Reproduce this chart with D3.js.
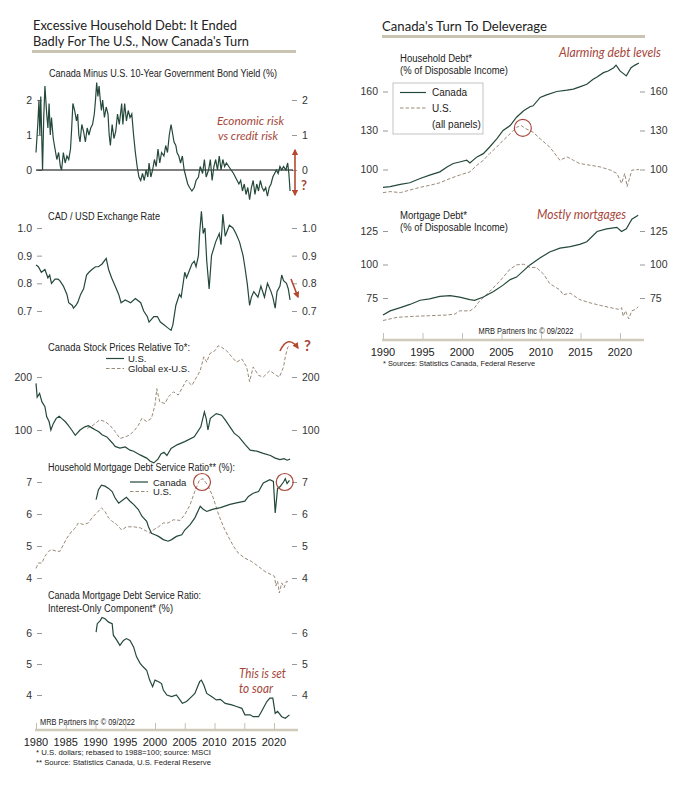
<!DOCTYPE html>
<html>
<head>
<meta charset="utf-8">
<script src="https://cdn.jsdelivr.net/npm/d3@7"></script>
<style>
  body { margin: 0; background: #fff; }
  svg text { font-family: "Liberation Sans", Arial, sans-serif; fill: #222; }
  .tick-lbl { font-size: 10px; fill: #333; }
  .note { font-family: Lato, "Open Sans", sans-serif; font-style: italic; fill: #a5463a; }
  .ttl { font-family: Lato, "Open Sans", sans-serif; fill: #222; }
</style>
</head>
<body>
<div id="chart"></div>
<script>
// ---- data ----
var yieldSpread = [[1980.0,0.5],[1980.3,1.3],[1980.5,2.0],[1980.65,1.0],[1980.8,2.1],[1981.1,0.0],[1981.3,1.5],[1981.5,2.4],[1981.8,1.6],[1982.0,1.2],[1982.2,1.9],[1982.4,1.0],[1982.6,1.5],[1982.9,0.9],[1983.2,0.6],[1983.5,0.3],[1983.8,0.5],[1984.1,0.1],[1984.3,0.0],[1984.6,0.5],[1984.9,0.2],[1985.2,0.4],[1985.5,0.3],[1985.8,0.6],[1986.0,1.2],[1986.2,1.9],[1986.5,1.7],[1986.8,1.4],[1987.0,1.6],[1987.2,1.0],[1987.4,0.8],[1987.7,1.3],[1988.0,1.1],[1988.3,0.8],[1988.6,1.2],[1988.9,1.0],[1989.2,1.2],[1989.5,1.3],[1989.8,1.6],[1990.0,2.0],[1990.2,2.5],[1990.4,2.1],[1990.6,2.4],[1990.8,2.0],[1991.0,1.7],[1991.2,2.0],[1991.5,1.5],[1991.8,1.8],[1992.1,1.6],[1992.3,1.0],[1992.5,0.7],[1992.8,1.3],[1993.1,0.9],[1993.4,1.1],[1993.7,1.6],[1994.0,1.3],[1994.4,1.9],[1994.6,1.3],[1994.9,1.9],[1995.2,1.4],[1995.5,1.7],[1995.8,1.5],[1996.1,1.6],[1996.4,1.0],[1996.7,0.5],[1997.0,0.1],[1997.3,-0.2],[1997.6,-0.3],[1997.9,-0.1],[1998.2,-0.3],[1998.5,0.0],[1998.8,-0.2],[1999.0,0.2],[1999.3,-0.2],[1999.6,0.0],[1999.9,0.3],[2000.2,0.1],[2000.5,0.6],[2000.8,0.2],[2001.1,0.5],[2001.5,0.4],[2001.8,0.7],[2002.1,0.5],[2002.4,1.0],[2002.7,1.3],[2002.9,1.1],[2003.2,0.8],[2003.5,0.7],[2003.7,0.5],[2004.0,0.4],[2004.3,0.2],[2004.6,0.4],[2004.9,0.0],[2005.2,-0.2],[2005.5,-0.4],[2005.8,-0.5],[2006.2,-0.6],[2006.6,-0.5],[2006.9,-0.3],[2007.3,-0.2],[2007.6,0.1],[2008.0,-0.1],[2008.3,0.3],[2008.6,-0.2],[2009.0,0.0],[2009.3,0.3],[2009.6,-0.3],[2009.9,0.1],[2010.2,0.3],[2010.5,0.0],[2010.8,0.4],[2011.1,0.0],[2011.4,0.3],[2011.7,0.1],[2012.0,0.2],[2012.4,0.1],[2012.8,0.0],[2013.2,-0.1],[2013.5,-0.2],[2013.8,-0.3],[2014.1,-0.4],[2014.4,-0.3],[2014.7,-0.6],[2015.0,-0.4],[2015.3,-0.7],[2015.6,-0.5],[2015.9,-0.85],[2016.2,-0.5],[2016.5,-0.3],[2016.8,-0.7],[2017.1,-0.4],[2017.4,-0.6],[2017.7,-0.3],[2018.0,-0.5],[2018.3,-0.6],[2018.6,-0.5],[2018.9,-0.75],[2019.2,-0.5],[2019.5,-0.4],[2019.8,-0.2],[2020.1,-0.1],[2020.4,0.0],[2020.7,-0.1],[2021.0,0.1],[2021.3,0.0],[2021.6,0.1],[2022.0,0.0],[2022.3,0.2],[2022.5,-0.1],[2022.7,-0.6]];

var cadUsd = [[1980.0,0.866],[1980.4,0.86],[1980.9,0.84],[1981.5,0.85],[1982.0,0.82],[1982.3,0.83],[1982.6,0.80],[1983.2,0.815],[1983.7,0.815],[1984.0,0.81],[1984.6,0.79],[1985.2,0.76],[1985.5,0.73],[1986.1,0.72],[1986.3,0.71],[1986.7,0.72],[1987.0,0.73],[1987.5,0.76],[1988.0,0.78],[1988.5,0.83],[1988.9,0.84],[1989.4,0.85],[1990.0,0.86],[1990.5,0.86],[1991.1,0.87],[1991.8,0.89],[1992.2,0.85],[1992.7,0.82],[1993.3,0.79],[1993.9,0.76],[1994.3,0.73],[1995.0,0.74],[1995.9,0.73],[1996.7,0.745],[1997.6,0.73],[1998.1,0.70],[1998.7,0.68],[1999.0,0.66],[1999.8,0.68],[2000.4,0.68],[2000.9,0.66],[2001.5,0.65],[2002.1,0.64],[2002.7,0.63],[2003.0,0.65],[2003.5,0.72],[2004.1,0.76],[2004.4,0.75],[2005.0,0.84],[2005.3,0.82],[2006.2,0.87],[2006.6,0.88],[2006.9,0.86],[2007.3,0.90],[2007.5,0.98],[2007.8,1.06],[2008.1,0.98],[2008.4,1.00],[2008.7,0.88],[2009.1,0.78],[2009.5,0.90],[2010.2,0.95],[2010.8,0.98],[2011.1,0.94],[2011.4,1.05],[2011.8,0.97],[2012.5,1.01],[2013.1,1.00],[2013.6,0.98],[2014.2,0.95],[2014.8,0.90],[2015.1,0.86],[2015.5,0.80],[2015.9,0.72],[2016.2,0.75],[2016.6,0.77],[2017.3,0.75],[2017.8,0.79],[2018.4,0.75],[2018.9,0.80],[2019.5,0.77],[2019.8,0.75],[2020.2,0.71],[2020.5,0.77],[2021.0,0.79],[2021.3,0.83],[2021.6,0.81],[2022.1,0.80],[2022.4,0.78],[2022.7,0.74]];

var stocksVsUS = [[1980.0,188],[1980.2,162],[1980.6,169],[1981.0,153],[1981.5,144],[1981.8,125],[1982.2,116],[1982.5,100],[1982.9,112],[1983.4,122],[1983.9,126],[1984.3,122],[1984.9,116],[1985.4,109],[1986.0,100],[1986.6,90],[1987.4,100],[1988.2,106],[1988.8,108],[1989.4,104],[1990.0,100],[1990.5,97],[1991.1,91],[1991.9,87],[1992.8,76],[1993.3,69],[1994.1,66],[1995.0,68],[1995.8,62],[1996.4,60],[1997.5,53],[1998.6,47],[1999.2,41],[1999.8,38],[2000.5,45],[2001.0,55],[2001.5,58],[2002.0,52],[2002.7,65],[2003.7,72],[2005.0,78],[2006.6,87],[2007.7,106],[2008.3,134],[2008.6,122],[2008.9,100],[2009.3,122],[2010.3,131],[2011.2,128],[2011.8,119],[2012.6,106],[2013.3,94],[2014.1,87],[2015.2,72],[2016.0,62],[2017.1,60],[2018.2,56],[2019.4,52],[2020.2,47],[2021.0,44],[2021.7,46],[2022.2,43],[2022.7,45]];

var stocksVsGlobal = [[1988.6,103],[1989.6,109],[1990.7,119],[1991.6,116],[1992.4,109],[1993.3,97],[1994.1,84],[1995.0,87],[1995.8,91],[1996.6,100],[1997.2,109],[1997.8,122],[1998.6,116],[1999.4,122],[2000.0,147],[2000.3,178],[2000.8,153],[2001.7,150],[2002.2,162],[2003.1,172],[2003.9,166],[2004.5,178],[2005.3,194],[2006.2,184],[2007.0,200],[2007.6,212],[2008.2,238],[2008.7,228],[2009.2,244],[2010.1,250],[2010.6,259],[2011.2,256],[2012.0,250],[2012.9,238],[2013.7,228],[2014.6,234],[2015.4,219],[2015.9,191],[2016.5,219],[2017.4,203],[2018.2,200],[2019.3,212],[2020.4,203],[2020.9,200],[2021.6,219],[2021.9,238],[2022.3,256],[2022.6,259]];

var dsrCanada = [[1990.1,6.45],[1990.5,6.76],[1991.0,6.9],[1991.6,6.87],[1992.2,6.8],[1992.8,6.7],[1993.3,6.5],[1993.9,6.34],[1994.7,6.45],[1995.2,6.52],[1995.8,6.4],[1996.4,6.3],[1997.2,6.14],[1997.8,5.93],[1998.6,5.77],[1998.9,5.6],[1999.4,5.4],[2000.0,5.35],[2000.6,5.3],[2001.4,5.2],[2002.2,5.15],[2002.8,5.2],[2003.6,5.3],[2004.5,5.35],[2005.0,5.5],[2005.9,5.67],[2006.7,5.88],[2007.6,6.24],[2008.1,6.15],[2008.7,6.08],[2009.3,6.12],[2009.8,6.15],[2011.0,6.2],[2012.6,6.3],[2013.7,6.35],[2015.1,6.4],[2015.7,6.55],[2016.5,6.65],[2017.4,6.7],[2018.2,6.97],[2019.3,7.07],[2019.9,7.02],[2020.2,6.03],[2020.6,6.8],[2021.0,6.85],[2021.6,7.0],[2021.9,7.1],[2022.2,6.95],[2022.6,7.05]];

var dsrUS = [[1980.0,4.3],[1980.4,4.47],[1981.0,4.47],[1981.5,4.68],[1982.1,4.83],[1982.6,4.89],[1983.2,4.85],[1984.0,4.83],[1984.6,5.04],[1985.2,5.25],[1986.0,5.46],[1986.6,5.56],[1987.1,5.72],[1988.0,5.67],[1988.8,5.72],[1989.4,5.88],[1990.2,6.03],[1991.0,6.19],[1991.6,6.08],[1992.2,5.88],[1992.8,5.77],[1993.6,5.67],[1994.4,5.5],[1995.2,5.6],[1996.4,5.6],[1997.5,5.57],[1998.6,5.46],[1999.2,5.4],[1999.7,5.5],[2000.6,5.6],[2001.4,5.72],[2002.2,5.72],[2003.1,5.82],[2004.2,5.8],[2005.0,5.98],[2005.9,6.29],[2006.7,6.71],[2007.5,7.07],[2008.1,7.1],[2009.0,6.86],[2009.8,6.5],[2010.6,6.03],[2011.5,5.6],[2012.3,5.3],[2013.2,4.99],[2014.0,4.78],[2015.1,4.62],[2016.2,4.52],[2017.4,4.36],[2018.5,4.2],[2019.6,4.1],[2020.1,4.05],[2020.3,3.75],[2020.6,3.9],[2020.9,3.53],[2021.3,3.85],[2021.7,3.7],[2022.1,3.9],[2022.6,3.85]];

var interestOnly = [[1990.1,6.03],[1990.3,6.3],[1990.8,6.4],[1991.1,6.5],[1991.6,6.46],[1992.2,6.35],[1992.8,6.3],[1993.0,5.93],[1993.6,5.76],[1994.1,5.6],[1994.7,5.76],[1995.2,5.82],[1995.8,5.76],[1996.4,5.55],[1996.9,5.23],[1997.5,5.02],[1998.0,4.91],[1998.6,4.8],[1999.1,4.48],[1999.6,4.27],[2000.0,4.48],[2000.6,4.43],[2001.1,4.37],[2001.4,4.16],[2002.0,4.0],[2002.8,3.95],[2003.6,4.0],[2004.2,3.84],[2004.6,3.73],[2005.3,3.79],[2005.9,3.9],[2006.7,4.05],[2007.5,4.43],[2007.8,4.48],[2008.2,4.32],[2008.7,4.05],[2009.5,3.95],[2010.3,3.84],[2011.0,3.86],[2011.8,3.73],[2012.9,3.68],[2013.7,3.63],[2014.6,3.57],[2015.1,3.36],[2016.0,3.36],[2016.5,3.3],[2017.4,3.3],[2017.9,3.47],[2018.8,3.79],[2019.3,3.9],[2019.8,3.9],[2020.2,3.41],[2020.6,3.47],[2021.3,3.3],[2021.9,3.25],[2022.6,3.36]];

var hhDebtCanada = [[1990.0,86.3],[1990.9,86.8],[1992.2,88.6],[1993.4,89.8],[1994.7,93.1],[1995.9,95.7],[1997.2,98.2],[1998.1,102],[1998.9,104.6],[1999.7,105.8],[2000.6,107.1],[2001.0,105],[2001.9,109.7],[2002.7,112.2],[2003.5,117.3],[2004.4,123.6],[2005.2,130],[2006.1,133.8],[2006.9,140.2],[2007.8,145.2],[2008.6,148.3],[2009.0,149],[2009.9,155.4],[2010.7,157.4],[2012.0,160],[2013.3,161],[2014.1,161.8],[2014.9,163.6],[2015.8,165.6],[2016.6,169.4],[2017.1,171.2],[2017.9,174.5],[2018.5,175.8],[2019.2,178.3],[2019.5,180.3],[2020.0,175.8],[2020.8,172],[2021.4,178.3],[2021.9,180.3],[2022.4,182]];

var hhDebtUS = [[1990.0,82.2],[1990.9,83],[1992.2,82.2],[1993.4,84.2],[1994.7,86.3],[1995.9,87.8],[1997.2,89.8],[1998.5,93.1],[1999.7,95.7],[2001.0,98.2],[2001.9,103.3],[2002.7,107.1],[2003.5,112.2],[2004.4,117.3],[2005.2,122.4],[2006.1,127.5],[2006.9,132.5],[2007.5,133.8],[2008.1,131.3],[2009.0,128.7],[2009.9,123.6],[2011.1,117.3],[2012.4,107.1],[2013.3,109.7],[2014.1,107.1],[2014.9,104.6],[2016.2,103.3],[2017.5,102],[2018.8,99.5],[2019.6,97],[2020.2,89.3],[2020.6,97],[2020.9,86.8],[2021.5,99.5],[2022.4,100]];

var mortCanada = [[1990.0,62.3],[1990.9,65.4],[1992.2,67.8],[1993.4,70.2],[1994.7,73.3],[1995.9,74.3],[1997.2,76.2],[1998.5,76.7],[1999.7,75.7],[2001.0,73.8],[2001.6,73.3],[2002.7,75.7],[2004.0,79.8],[2005.2,84.6],[2006.1,88.7],[2006.9,90.6],[2007.8,95.4],[2008.6,99.7],[2009.9,105],[2011.1,109.3],[2012.4,112.2],[2013.7,113.4],[2014.9,115],[2015.8,117],[2017.1,124.6],[2018.3,126.6],[2019.6,127.7],[2020.2,124.6],[2020.8,126.6],[2021.5,133.8],[2022.3,136.7]];

var mortUS = [[1990.0,58.2],[1991.8,60.6],[1993.9,61.3],[1995.9,61.8],[1998.1,62.3],[1999.1,63],[1999.7,65.4],[2001.0,65.4],[2001.6,67.8],[2002.2,72.6],[2003.5,79.8],[2004.8,87.7],[2006.1,96.6],[2006.9,99.7],[2007.8,100.2],[2008.6,97.8],[2009.4,97.8],[2010.3,93],[2011.1,85.8],[2012.4,81],[2012.8,77.4],[2013.7,78.6],[2014.9,73.8],[2016.2,71.4],[2017.5,69.5],[2018.8,67.8],[2019.8,66.6],[2020.2,67.8],[2020.4,61.3],[2020.7,65.4],[2021.1,59.4],[2021.5,65.4],[2022.0,66.6],[2022.3,68.5]];

var leftYears = [1980, 1985, 1990, 1995, 2000, 2005, 2010, 2015, 2020];
var rightYears = [1990, 1995, 2000, 2005, 2010, 2015, 2020];

var GREEN = "#24483a", TAN = "#9a8a78", RED = "#a8473a", ARROW = "#b4492f", GRID = "#999";

var svg = d3.select("#chart").append("svg")
    .attr("width", 689).attr("height", 788);

svg.append("defs").append("marker")
    .attr("id", "ah").attr("viewBox", "0 0 10 10")
    .attr("refX", 8).attr("refY", 5)
    .attr("markerWidth", 4).attr("markerHeight", 4)
    .attr("orient", "auto-start-reverse")
  .append("path").attr("d", "M0,0L10,5L0,10Z").attr("fill", ARROW);

var xL = d3.scaleLinear().domain([1980, 2020]).range([36, 274]);
var xR = d3.scaleLinear().domain([1990, 2020]).range([383, 620]);

function drawLine(x, y, data, dashed) {
    var line = d3.line().x(function(d) { return x(d[0]); }).y(function(d) { return y(d[1]); });
    svg.append("path").datum(data)
        .attr("d", line)
        .attr("fill", "none")
        .attr("stroke", dashed ? TAN : GREEN)
        .attr("stroke-width", dashed ? 1 : 1.2)
        .attr("stroke-dasharray", dashed ? "3.5,2" : null);
}

// y ticks on both sides, using d3 axes with the domain line hidden
function yTicks(y, ticks, fmt, lx, rx) {
    var l = svg.append("g").attr("transform", "translate(" + lx + ",0)")
        .call(d3.axisLeft(y).tickValues(ticks).tickFormat(fmt).tickSize(5).tickPadding(5));
    var r = svg.append("g").attr("transform", "translate(" + rx + ",0)")
        .call(d3.axisRight(y).tickValues(ticks).tickFormat(fmt).tickSize(5).tickPadding(5));
    [l, r].forEach(function(g) {
        g.select(".domain").remove();
        g.selectAll("line").attr("stroke", GRID);
        g.selectAll("text").attr("class", "tick-lbl").style("font-size", "10.5px")
            .style("font-family", "Liberation Sans, Arial, sans-serif").attr("fill", "#333");
    });
}

function text(x, y, s, size, cls, anchor) {
    return svg.append("text").attr("x", x).attr("y", y).text(s)
        .attr("class", cls || null)
        .style("font-size", size + "px")
        .attr("text-anchor", anchor || "start");
}

// ---------- LEFT COLUMN ----------
text(33, 29.5, "Excessive Household Debt: It Ended", 13.5, "ttl").attr("textLength", 204).attr("lengthAdjust", "spacingAndGlyphs");
text(33, 46, "Badly For The U.S., Now Canada's Turn", 13.5, "ttl").attr("textLength", 216).attr("lengthAdjust", "spacingAndGlyphs");
svg.append("rect").attr("x", 32).attr("y", 50).attr("width", 264).attr("height", 3).attr("fill", "#c9c4b1");

// panel 1
var y1 = d3.scaleLinear().domain([0, 2]).range([170, 100]);
text(49, 77, "Canada Minus U.S. 10-Year Government Bond Yield (%)", 10).attr("textLength", 228).attr("lengthAdjust", "spacingAndGlyphs");
yTicks(y1, [0, 1, 2], d3.format("d"), 42, 292);
svg.append("line").attr("x1", 36).attr("x2", 293).attr("y1", y1(0)).attr("y2", y1(0)).attr("stroke", "#000").attr("stroke-width", 1);
drawLine(xL, y1, yieldSpread, false);
text(217, 124.5, "Economic risk", 12, "note").attr("textLength", 67).attr("lengthAdjust", "spacingAndGlyphs");
text(218, 139.5, "vs credit risk", 12, "note").attr("textLength", 60).attr("lengthAdjust", "spacingAndGlyphs");
svg.append("line").attr("x1", 295).attr("x2", 295).attr("y1", 150).attr("y2", 195)
    .attr("stroke", ARROW).attr("stroke-width", 1.6)
    .attr("marker-start", "url(#ah)").attr("marker-end", "url(#ah)");
text(301, 190, "?", 13, "note").style("font-style", "normal").style("font-weight", "bold").attr("fill", ARROW);

// panel 2
var y2 = d3.scaleLinear().domain([0.7, 1.0]).range([311, 228]);
text(48, 220, "CAD / USD Exchange Rate", 10).attr("textLength", 112).attr("lengthAdjust", "spacingAndGlyphs");
yTicks(y2, [0.7, 0.8, 0.9, 1.0], d3.format(".1f"), 42, 292);
drawLine(xL, y2, cadUsd, false);
svg.append("line").attr("x1", 291).attr("y1", 279).attr("x2", 298).attr("y2", 297)
    .attr("stroke", ARROW).attr("stroke-width", 1.6).attr("marker-end", "url(#ah)");

// panel 3
var y3 = d3.scaleLinear().domain([100, 200]).range([430, 377]);
text(48, 351, "Canada Stock Prices Relative To*:", 10).attr("textLength", 142).attr("lengthAdjust", "spacingAndGlyphs");
svg.append("line").attr("x1", 106).attr("x2", 124).attr("y1", 358.5).attr("y2", 358.5).attr("stroke", GREEN).attr("stroke-width", 1.2);
text(128, 362, "U.S.", 9.5);
svg.append("line").attr("x1", 106).attr("x2", 124).attr("y1", 368.5).attr("y2", 368.5).attr("stroke", TAN).attr("stroke-dasharray", "3.5,2");
text(128, 372, "Global ex-U.S.", 9.5);
yTicks(y3, [100, 200], d3.format("d"), 42, 292);
drawLine(xL, y3, stocksVsGlobal, true);
drawLine(xL, y3, stocksVsUS, false);
svg.append("path").attr("d", "M280,351 Q288,334 298,348")
    .attr("fill", "none").attr("stroke", ARROW).attr("stroke-width", 1.6).attr("marker-end", "url(#ah)");
text(304, 351, "?", 15, "note").style("font-style", "normal").style("font-weight", "bold").attr("fill", ARROW);

// panel 4
var y4 = d3.scaleLinear().domain([4, 7]).range([578, 482]);
text(48, 471, "Household Mortgage Debt Service Ratio** (%):", 10).attr("textLength", 187).attr("lengthAdjust", "spacingAndGlyphs");
svg.append("line").attr("x1", 130).attr("x2", 148).attr("y1", 482).attr("y2", 482).attr("stroke", GREEN).attr("stroke-width", 1.2);
text(153, 485.5, "Canada", 9.5);
svg.append("line").attr("x1", 130).attr("x2", 148).attr("y1", 491.5).attr("y2", 491.5).attr("stroke", TAN).attr("stroke-dasharray", "3.5,2");
text(153, 495, "U.S.", 9.5);
yTicks(y4, [4, 5, 6, 7], d3.format("d"), 42, 292);
drawLine(xL, y4, dsrUS, true);
drawLine(xL, y4, dsrCanada, false);
[[2007.9, 7.0], [2021.8, 7.0]].forEach(function(c) {
    svg.append("circle").attr("cx", xL(c[0])).attr("cy", y4(c[1])).attr("r", 8.5)
        .attr("fill", "none").attr("stroke", RED).attr("stroke-width", 1.2);
});

// panel 5
var y5 = d3.scaleLinear().domain([4, 6]).range([695, 633]);
text(48, 599, "Canada Mortgage Debt Service Ratio:", 10).attr("textLength", 153).attr("lengthAdjust", "spacingAndGlyphs");
text(48, 612, "Interest-Only Component* (%)", 10).attr("textLength", 125).attr("lengthAdjust", "spacingAndGlyphs");
yTicks(y5, [4, 5, 6], d3.format("d"), 42, 292);
drawLine(xL, y5, interestOnly, false);
text(239, 678, "This is set", 13, "note").attr("textLength", 47).attr("lengthAdjust", "spacingAndGlyphs");
text(239, 693, "to soar", 13, "note").attr("textLength", 34).attr("lengthAdjust", "spacingAndGlyphs");
text(40, 725, "MRB Partners Inc \u00a9 09/2022", 8.5).attr("fill", "#8a8a8a").attr("textLength", 95).attr("lengthAdjust", "spacingAndGlyphs");

// left x axis
svg.append("line").attr("x1", 35).attr("x2", 298).attr("y1", 730).attr("y2", 730).attr("stroke", "#cfcab9").attr("stroke-width", 2.5);
var xa = svg.append("g").attr("transform", "translate(0,729)")
    .call(d3.axisTop(xL).tickValues(leftYears).tickFormat(d3.format("d")).tickSize(6));
xa.select(".domain").remove();
xa.selectAll("line").attr("stroke", "#c4c0b2");
xa.selectAll("text").remove();
svg.selectAll(".xlblL").data(leftYears).enter().append("text")
    .attr("x", function(d) { return xL(d); }).attr("y", 746)
    .attr("text-anchor", "middle").style("font-size", "11px").text(function(d) { return d; });
text(36, 755, "*  U.S. dollars; rebased to 1988=100; source: MSCI", 7).attr("textLength", 175).attr("lengthAdjust", "spacingAndGlyphs");
text(36, 765, "** Source: Statistics Canada, U.S. Federal Reserve", 7).attr("textLength", 175).attr("lengthAdjust", "spacingAndGlyphs");

// ---------- RIGHT COLUMN ----------
text(382, 31, "Canada's Turn To Deleverage", 14, "ttl").attr("textLength", 165).attr("lengthAdjust", "spacingAndGlyphs");
svg.append("rect").attr("x", 382).attr("y", 35).attr("width", 263).attr("height", 3).attr("fill", "#c9c4b1");

// household debt
var yR1 = d3.scaleLinear().domain([100, 160]).range([169.5, 91.5]);
text(400, 62, "Household Debt*", 10).attr("textLength", 72).attr("lengthAdjust", "spacingAndGlyphs");
text(400, 74, "(% of Disposable Income)", 10).attr("textLength", 108).attr("lengthAdjust", "spacingAndGlyphs");
text(559, 57, "Alarming debt levels", 14, "note").attr("textLength", 102).attr("lengthAdjust", "spacingAndGlyphs");
yTicks(yR1, [100, 130, 160], d3.format("d"), 388, 640);
drawLine(xR, yR1, hhDebtUS, true);
drawLine(xR, yR1, hhDebtCanada, false);
svg.append("circle").attr("cx", xR(2007.7)).attr("cy", yR1(132)).attr("r", 8.5)
    .attr("fill", "none").attr("stroke", RED).attr("stroke-width", 1.2);

// legend box
svg.append("rect").attr("x", 393).attr("y", 83).attr("width", 90).attr("height", 51)
    .attr("fill", "#fff").attr("stroke", "#b5b5b5").attr("stroke-width", 0.8);
svg.append("line").attr("x1", 400).attr("x2", 426).attr("y1", 92.5).attr("y2", 92.5).attr("stroke", GREEN).attr("stroke-width", 1.2);
text(432, 96, "Canada", 10);
svg.append("line").attr("x1", 400).attr("x2", 426).attr("y1", 108).attr("y2", 108).attr("stroke", TAN).attr("stroke-dasharray", "3.5,2");
text(432, 112, "U.S.", 10);
text(432, 128, "(all panels)", 10);

// mortgage debt
var yR2 = d3.scaleLinear().domain([75, 125]).range([298, 231]);
text(400, 219, "Mortgage Debt*", 10).attr("textLength", 67).attr("lengthAdjust", "spacingAndGlyphs");
text(400, 231, "(% of Disposable Income)", 10).attr("textLength", 108).attr("lengthAdjust", "spacingAndGlyphs");
text(537, 219, "Mostly mortgages", 14, "note").attr("textLength", 89).attr("lengthAdjust", "spacingAndGlyphs");
yTicks(yR2, [75, 100, 125], d3.format("d"), 388, 640);
drawLine(xR, yR2, mortUS, true);
drawLine(xR, yR2, mortCanada, false);
text(526, 334, "MRB Partners Inc \u00a9 09/2022", 8.5, null, "middle").attr("fill", "#8a8a8a").attr("textLength", 95).attr("lengthAdjust", "spacingAndGlyphs");

// right x axis
svg.append("line").attr("x1", 382).attr("x2", 644).attr("y1", 340).attr("y2", 340).attr("stroke", "#cfcab9").attr("stroke-width", 2.5);
var xb = svg.append("g").attr("transform", "translate(0,339)")
    .call(d3.axisTop(xR).tickValues(rightYears).tickFormat(d3.format("d")).tickSize(6));
xb.select(".domain").remove();
xb.selectAll("line").attr("stroke", "#c4c0b2");
xb.selectAll("text").remove();
svg.selectAll(".xlblR").data(rightYears).enter().append("text")
    .attr("x", function(d) { return xR(d); }).attr("y", 356)
    .attr("text-anchor", "middle").style("font-size", "11px").text(function(d) { return d; });
text(383, 366, "*  Sources: Statistics Canada, Federal Reserve", 7).attr("textLength", 152).attr("lengthAdjust", "spacingAndGlyphs");
</script>
</body>
</html>
